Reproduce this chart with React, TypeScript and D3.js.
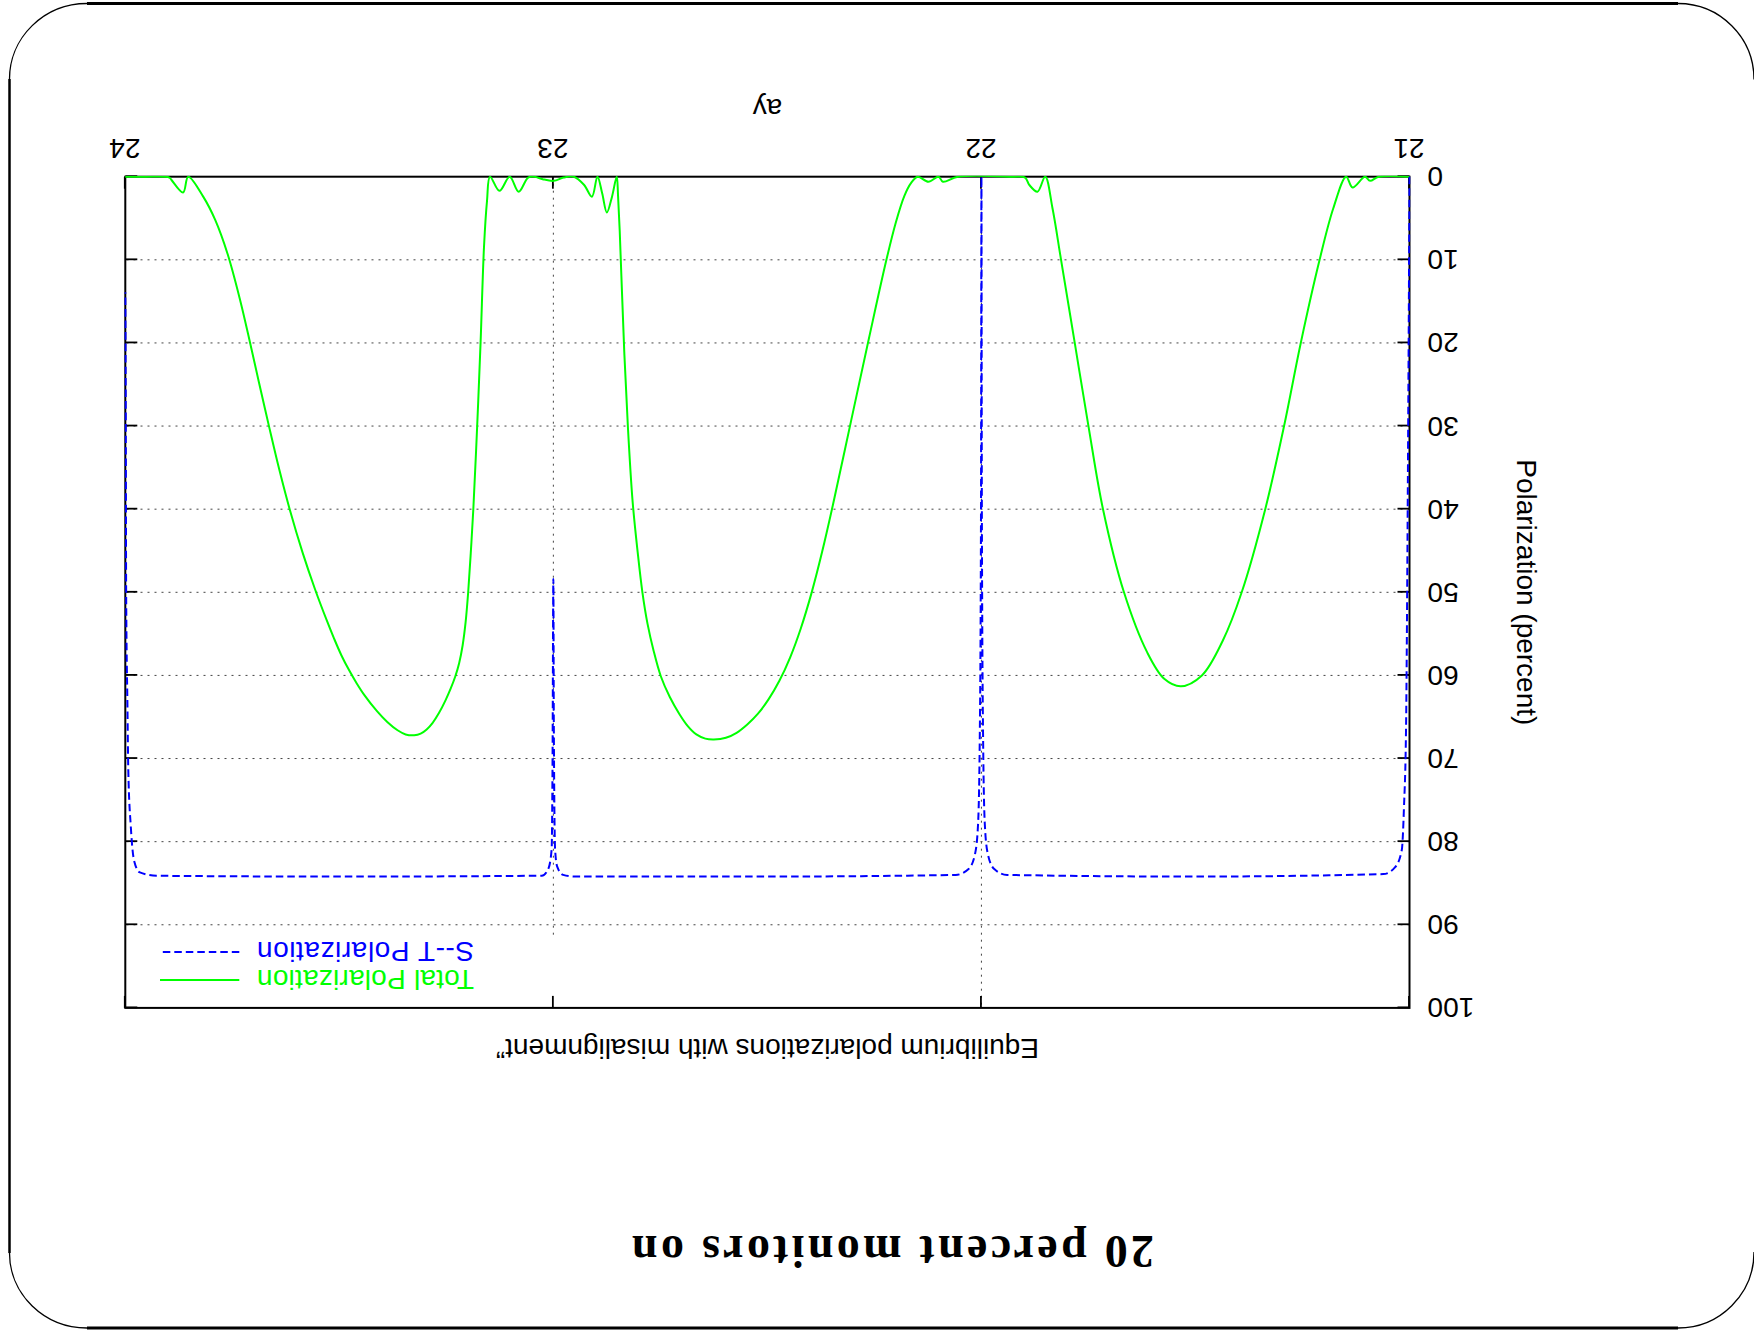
import React, { useEffect, useRef } from 'react';
import * as d3 from 'd3';

const W = 1754;
const H = 1332;

// axis ticks and grid
const xTicks = [21, 22, 23, 24];
const yTicks = [0, 10, 20, 30, 40, 50, 60, 70, 80, 90, 100];
const xGrid = [22, 23];
const yGrid = [10, 20, 30, 40, 50, 60, 70, 80, 90];

// [ay, polarization %]
const totalPolarization: [number, number][] = [
  [21.0, 0], [21.072, 0], [21.092, 0.5], [21.104, 0], [21.133, 1.3], [21.148, 0],
  [21.178, 3.8], [21.21, 10], [21.254, 20], [21.293, 30], [21.337, 40], [21.392, 50],
  [21.436, 55.8], [21.485, 60], [21.534, 61.3], [21.573, 60.4], [21.613, 57.2], [21.667, 50],
  [21.716, 40], [21.75, 30], [21.782, 20], [21.814, 10], [21.834, 3.8], [21.851, 0],
  [21.869, 1.8], [21.888, 1.0], [21.898, 0.1], [21.928, 0], [22.055, 0], [22.09, 0.6],
  [22.1, 0], [22.124, 0.6], [22.149, 0], [22.165, 0.8], [22.18, 2.3], [22.2, 5.5],
  [22.222, 10], [22.263, 19.5], [22.305, 29.5], [22.347, 39.5], [22.372, 45.1], [22.397, 50.1],
  [22.422, 54.35], [22.447, 57.85], [22.472, 60.65], [22.497, 62.85], [22.522, 64.6], [22.547, 65.9],
  [22.572, 66.9], [22.597, 67.5], [22.625, 67.7], [22.645, 67.6], [22.666, 67.1], [22.686, 66.1],
  [22.705, 64.7], [22.728, 62.6], [22.749, 60.1], [22.766, 57.0], [22.78, 53.8], [22.792, 50],
  [22.803, 45.2], [22.815, 39.0], [22.826, 30], [22.834, 21.5], [22.84, 13.5], [22.845, 6.5],
  [22.849, 2.2], [22.852, 0], [22.863, 2.4], [22.875, 4.3], [22.886, 2.0], [22.897, 0],
  [22.91, 2.4], [22.928, 1.0], [22.952, 0], [22.976, 0.1], [22.999, 0.5], [23.025, 0.3],
  [23.044, 0], [23.059, 0.1], [23.081, 1.8], [23.102, 0], [23.126, 1.7], [23.148, 0],
  [23.155, 2.9], [23.162, 8.4], [23.17, 19.9], [23.178, 30], [23.187, 40], [23.193, 45.3],
  [23.199, 50], [23.205, 53.6], [23.212, 56.4], [23.22, 58.5], [23.229, 60.1], [23.24, 61.6],
  [23.252, 63.0], [23.267, 64.5], [23.282, 65.7], [23.296, 66.5], [23.31, 67.0], [23.325, 67.2],
  [23.345, 67.1], [23.364, 66.6], [23.388, 65.6], [23.412, 64.3], [23.441, 62.4], [23.46, 60.9],
  [23.478, 59.3], [23.495, 57.6], [23.512, 55.6], [23.53, 53.3], [23.557, 49.6], [23.586, 45.2],
  [23.615, 40.2], [23.64, 35.3], [23.664, 30.1], [23.688, 24.7], [23.708, 20.1], [23.732, 14.8],
  [23.761, 9.3], [23.79, 5.2], [23.818, 2.4], [23.853, 0], [23.865, 1.9], [23.892, 0.4],
  [23.897, 0.1], [23.954, 0], [24.0, 0],
];

const stPolarization: [number, number][] = [
  [21.0, 0], [21.002, 20], [21.004, 38], [21.008, 66], [21.013, 76], [21.018, 81],
  [21.034, 83.1], [21.061, 83.9], [21.5, 84.2], [21.94, 84.0], [21.97, 83.3], [21.985, 81.5],
  [21.992, 78], [21.996, 68], [21.999, 40], [22.0, 0], [22.001, 40], [22.004, 68],
  [22.008, 78], [22.015, 81.5], [22.03, 83.3], [22.06, 84.0], [22.5, 84.2], [22.95, 84.2],
  [22.977, 84.0], [22.991, 83.0], [22.996, 80.9], [22.999, 65], [23.0, 48.4], [23.002, 70.9],
  [23.004, 80.9], [23.012, 83.3], [23.027, 84.1], [23.5, 84.2], [23.927, 84.1], [23.966, 83.7],
  [23.979, 82.4], [23.987, 78.3], [23.993, 71.4], [23.995, 63.6], [23.998, 49.8], [23.999, 26.8],
  [24.0, 13.9],
];

const seriesNames = ['Total Polarization', 'S--T Polarization'];
const seriesColors = ['#00ff00', '#0000ff'];
const seriesDash = [null, '7.5,4'];

const slideTitle = '20 percent monitors on';
const plotTitle = 'Equilibrium polarizations with misalignment\u201d';
const xLabel = 'ay';
const yLabel = 'Polarization (percent)';

export default function App() {
  const ref = useRef<SVGSVGElement>(null);

  useEffect(() => {
    const svg = d3.select(ref.current);
    svg.selectAll('*').remove();

    svg.append('rect').attr('width', W).attr('height', H).attr('fill', '#fff');

    // slide frame (drawn in page orientation)
    const frame = svg.append('g').attr('fill', 'none').attr('stroke', '#000');
    frame.append('line').attr('x1', 87).attr('x2', 1678).attr('y1', 3.5).attr('y2', 3.5).attr('stroke-width', 3);
    frame.append('line').attr('x1', 87).attr('x2', 1678).attr('y1', 1328).attr('y2', 1328).attr('stroke-width', 3);
    frame.append('line').attr('x1', 9.5).attr('x2', 9.5).attr('y1', 79).attr('y2', 1253).attr('stroke-width', 2.5);
    frame.append('path').attr('d', 'M9.5,79 A77.5,75.5 0 0 1 87,3.5').attr('stroke-width', 1.3);
    frame.append('path').attr('d', 'M1678,3.5 A76,76 0 0 1 1754,79.5').attr('stroke-width', 1.3);
    frame.append('path').attr('d', 'M1678,1328 A76,76 0 0 0 1754,1252').attr('stroke-width', 1.3);
    frame.append('path').attr('d', 'M9.5,1253 A77.5,75 0 0 0 87,1328').attr('stroke-width', 1.3);

    // the whole chart is upside down
    const g = svg.append('g').attr('transform', `rotate(180 ${W / 2} ${H / 2})`);

    const L = 344.5, R = 1628.7, T = 324.1, B = 1155.3;
    const font = 'Liberation Sans, Arial, Helvetica, sans-serif';

    const x = d3.scaleLinear().domain([21, 24]).range([L, R]);
    const y = d3.scaleLinear().domain([0, 100]).range([B, T]);

    const row1 = T + 28, row2 = T + 56;
    const keyBottom = row2 + 14;

    g.append('clipPath').attr('id', 'plot-clip')
      .append('rect')
      .attr('x', L - 1).attr('y', T - 1).attr('width', R - L + 2).attr('height', B - T + 2);

    // grid
    g.selectAll('.ygrid').data(yGrid).join('line')
      .attr('class', 'ygrid')
      .attr('x1', L).attr('x2', R)
      .attr('y1', d => y(d)).attr('y2', d => y(d))
      .attr('stroke', '#444').attr('stroke-width', 1).attr('stroke-dasharray', '2,5');

    g.selectAll('.xgrid').data(xGrid).join('line')
      .attr('class', 'xgrid')
      .attr('x1', d => x(d)).attr('x2', d => x(d))
      .attr('y1', B).attr('y2', d => (d === 23 ? keyBottom : T))
      .attr('stroke', '#444').attr('stroke-width', 1).attr('stroke-dasharray', '2,5');

    // axes, gnuplot style: inward ticks, mirrored
    const styleAxis = (sel: any) => {
      sel.select('.domain').remove();
      sel.selectAll('line').attr('stroke', '#000').attr('stroke-width', 1.8);
      sel.selectAll('text').attr('font-family', font).attr('font-size', 28).attr('fill', '#000');
    };

    g.append('g').attr('transform', `translate(${L},0)`)
      .call(d3.axisLeft(y).tickValues(yTicks).tickFormat(d3.format('d')).tickSizeInner(-12).tickSizeOuter(0).tickPadding(18))
      .call(styleAxis);
    g.append('g').attr('transform', `translate(${R},0)`)
      .call(d3.axisRight(y).tickValues(yTicks).tickFormat(() => '').tickSizeInner(-12).tickSizeOuter(0))
      .call(styleAxis);
    g.append('g').attr('transform', `translate(0,${B})`)
      .call(d3.axisBottom(x).tickValues(xTicks).tickFormat(d3.format('d')).tickSizeInner(-12).tickSizeOuter(0).tickPadding(18))
      .call(styleAxis);
    g.append('g').attr('transform', `translate(0,${T})`)
      .call(d3.axisTop(x).tickValues(xTicks).tickFormat(() => '').tickSizeInner(-12).tickSizeOuter(0))
      .call(styleAxis);

    g.append('rect')
      .attr('x', L).attr('y', T).attr('width', R - L).attr('height', B - T)
      .attr('fill', 'none').attr('stroke', '#000').attr('stroke-width', 2);

    // curves: smooth spline for the total, monotone for the sharp S--T resonances
    const curves = [d3.curveCatmullRom.alpha(0.5), d3.curveMonotoneX];

    [totalPolarization, stPolarization].forEach((data, i) => {
      const line = d3.line<[number, number]>()
        .x(d => x(d[0]))
        .y(d => y(d[1]))
        .curve(curves[i]);
      const p = g.append('path')
        .datum(data)
        .attr('d', line)
        .attr('clip-path', 'url(#plot-clip)')
        .attr('fill', 'none')
        .attr('stroke', seriesColors[i])
        .attr('stroke-width', 2);
      if (seriesDash[i]) p.attr('stroke-dasharray', seriesDash[i]);
    });

    // key
    [row1, row2].forEach((ry, i) => {
      g.append('text')
        .attr('x', R - 131.7).attr('y', ry).attr('dy', '0.35em')
        .attr('text-anchor', 'end')
        .attr('font-family', font).attr('font-size', 28)
        .attr('fill', seriesColors[i])
        .attr('textLength', 217)
        .attr('lengthAdjust', 'spacing')
        .text(seriesNames[i]);
      const s = g.append('line')
        .attr('x1', R - 114).attr('x2', R - 34.7)
        .attr('y1', ry).attr('y2', ry)
        .attr('stroke', seriesColors[i]).attr('stroke-width', 2);
      if (seriesDash[i]) s.attr('stroke-dasharray', seriesDash[i]);
    });

    // labels
    g.append('text')
      .attr('x', (L + R) / 2).attr('y', 283).attr('dy', '0.35em')
      .attr('text-anchor', 'middle')
      .attr('font-family', font).attr('font-size', 28)
      .text(plotTitle);

    g.append('text')
      .attr('x', (L + R) / 2).attr('y', 1233)
      .attr('text-anchor', 'middle')
      .attr('font-family', font).attr('font-size', 28)
      .text(xLabel);

    g.append('text')
      .attr('transform', `translate(227,${(T + B) / 2}) rotate(-90)`)
      .attr('dy', '0.35em')
      .attr('text-anchor', 'middle')
      .attr('font-family', font).attr('font-size', 28)
      .text(yLabel);

    g.append('text')
      .attr('x', 861).attr('y', 96)
      .attr('text-anchor', 'middle')
      .attr('font-family', 'Liberation Serif, Times New Roman, serif')
      .attr('font-weight', 'bold')
      .attr('font-size', 46)
      .attr('textLength', 522)
      .attr('lengthAdjust', 'spacing')
      .text(slideTitle);
  }, []);

  return (
    <svg
      ref={ref}
      width={W}
      height={H}
      style={{ position: 'absolute', left: 0, top: 0 }}
    />
  );
}
